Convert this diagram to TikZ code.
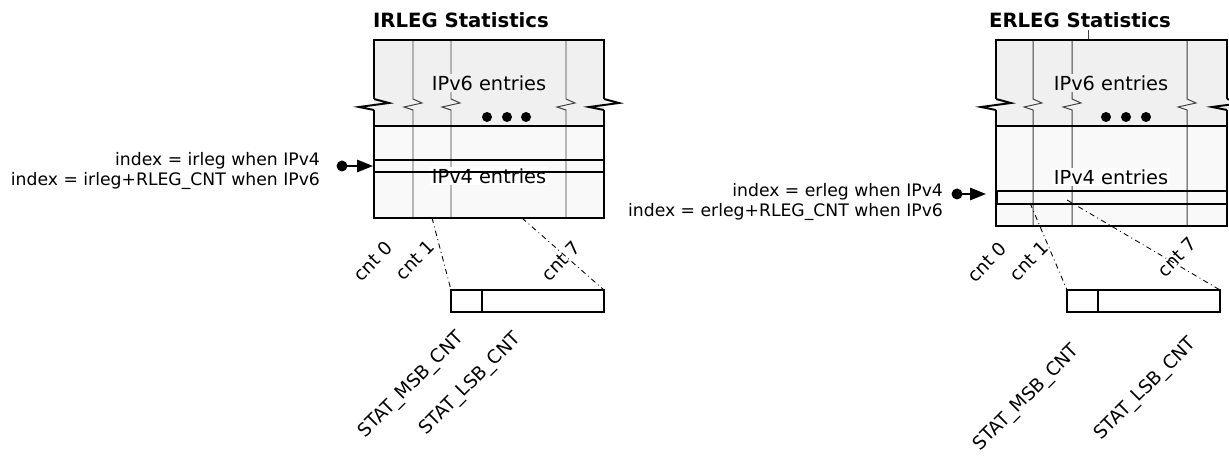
\documentclass[tikz,border=0pt]{standalone}
\usepackage{fontspec}
\setmainfont{DejaVu Sans}
\usepackage{tikz,xcolor}
\usetikzlibrary{arrows.meta,calc}

\definecolor{hiband}{gray}{0.94}
\definecolor{loband}{gray}{0.975}

\tikzset{
  frame/.style={black, line width=1.1pt},
  colline/.style={black!75, line width=0.55pt},
  chain/.style={black, line width=0.5pt, dash dot},
  ptr/.style={black, line width=0.8pt, -{Triangle[length=9pt,width=7pt]}},
  lbl/.style={font=\fontsize{9.8}{11.9}\selectfont, inner sep=1pt},
  tbl/.style={font=\fontsize{11}{13}\selectfont, inner sep=1pt},
  cntlbl/.style={font=\fontsize{10.5}{12}\selectfont, inner sep=1pt, rotate=45, anchor=east},
  ttl/.style={font=\fontsize{11.2}{13}\selectfont\bfseries, inner sep=1pt},
}

\begin{document}
\begin{tikzpicture}[x=0.02cm, y=-0.02cm]
\useasboundingbox (0,0) rectangle (1229,465);

% ---------------- IRLEG table ----------------
  \node[ttl] (ititle) at (461,20) {IRLEG Statistics};
  \fill[hiband] (374,40) rectangle (604,126);
  \fill[loband] (374,126) rectangle (604,218);
  % column lines, broken with a zigzag
  \foreach \x in {413,451,566}
    \draw[colline] (\x,40) -- (\x,99) -- ++(9,4) -- ++(-18,4) -- (\x,110) -- (\x,218);
  \node[tbl, fill=hiband] (iv6) at (489,83) {IPv6 entries};
  \node[tbl, fill=white] (iv4) at (489,176) {IPv4 entries};
  \fill[black] (487,117) circle (5);
  \fill[black] (507,117) circle (5);
  \fill[black] (526,117) circle (5);
  % outline
  \draw[frame] (374,99) -- (374,40) -- (604,40) -- (604,99);
  \draw[frame] (374,99) -- (389,103) -- (359,107) -- (374,110);
  \draw[frame] (604,99) -- (619,103) -- (589,107) -- (604,110);
  \draw[frame] (374,110) -- (374,218) -- (604,218) -- (604,110);
  \draw[frame] (374,126) -- (604,126);
  % selected row
  \draw[frame] (374,160) rectangle (604,172);
  \coordinate (irow) at (373,166);
  \coordinate (idot) at (342,166);
  \fill[black] (idot) circle (5.5);
  \draw[ptr] (idot) -- (irow);
  \node[lbl, align=right, anchor=east] (iindex) at (322,171)
    {index = irleg when IPv4\\index = irleg+RLEG\_CNT when IPv6};
  % counter labels
  \node[cntlbl] (icnt0) at (391,243) {cnt 0};
  \node[cntlbl] (icnt1) at (433,242) {cnt 1};
  \node[cntlbl] (icnt7) at (579,243) {cnt 7};
  % one counter split in two
  \coordinate (icola) at (432,218);
  \coordinate (icolb) at (522,218);
  \coordinate (imsb) at (451,290);
  \coordinate (ilsb) at (604,290);
  \draw[frame] (451,290) rectangle (604,312);
  \draw[frame] (482,290) -- (482,312);
  \draw[chain] (icola) -- (imsb);
  \draw[chain] (icolb) -- (ilsb);
  \node[cntlbl] (imsbl) at (463,334) {STAT\_MSB\_CNT};
  \node[cntlbl] (ilsbl) at (520,335) {STAT\_LSB\_CNT};

% ---------------- ERLEG table ----------------
  \node[ttl] (etitle) at (1080,20) {ERLEG Statistics};
  \draw[colline] (1088,30) -- (1088,40);
  \fill[hiband] (996,40) rectangle (1227,126);
  \fill[loband] (996,126) rectangle (1227,226);
  \foreach \x in {1033,1072,1187}
    \draw[colline] (\x,40) -- (\x,99) -- ++(9,4) -- ++(-18,4) -- (\x,110) -- (\x,226);
  \node[tbl, fill=hiband] (ev6) at (1111,83) {IPv6 entries};
  \node[tbl, fill=white] (ev4) at (1111,177) {IPv4 entries};
  \fill[black] (1106,117) circle (5);
  \fill[black] (1126,117) circle (5);
  \fill[black] (1146,117) circle (5);
  \draw[frame] (996,99) -- (996,40) -- (1227,40) -- (1227,99);
  \draw[frame] (996,99) -- (1011,103) -- (981,107) -- (996,110);
  \draw[frame] (1227,99) -- (1242,103) -- (1212,107) -- (1227,110);
  \draw[frame] (996,110) -- (996,226) -- (1227,226) -- (1227,110);
  \draw[frame] (996,126) -- (1227,126);
  \draw[frame] (997,191) rectangle (1227,204);
  \coordinate (erow) at (986,194);
  \coordinate (edot) at (957,194);
  \fill[black] (edot) circle (5.5);
  \draw[ptr] (edot) -- (erow);
  \node[lbl, align=right, anchor=east] (eindex) at (945,202)
    {index = erleg when IPv4\\index = erleg+RLEG\_CNT when IPv6};
  \node[cntlbl] (ecnt0) at (1005,244) {cnt 0};
  \node[cntlbl] (ecnt1) at (1047,243) {cnt 1};
  \node[cntlbl] (ecnt7) at (1195,239) {cnt 7};
  \coordinate (ecola) at (1030,203);
  \coordinate (ecolb) at (1067,200);
  \coordinate (emsb) at (1067,290);
  \coordinate (elsb) at (1220,290);
  \draw[frame] (1067,290) rectangle (1220,312);
  \draw[frame] (1098,290) -- (1098,312);
  \draw[chain] (ecola) -- (emsb);
  \draw[chain] (ecolb) -- (elsb);
  \node[cntlbl] (emsbl) at (1078,347) {STAT\_MSB\_CNT};
  \node[cntlbl] (elsbl) at (1195,340) {STAT\_LSB\_CNT};
\end{tikzpicture}
\end{document}
